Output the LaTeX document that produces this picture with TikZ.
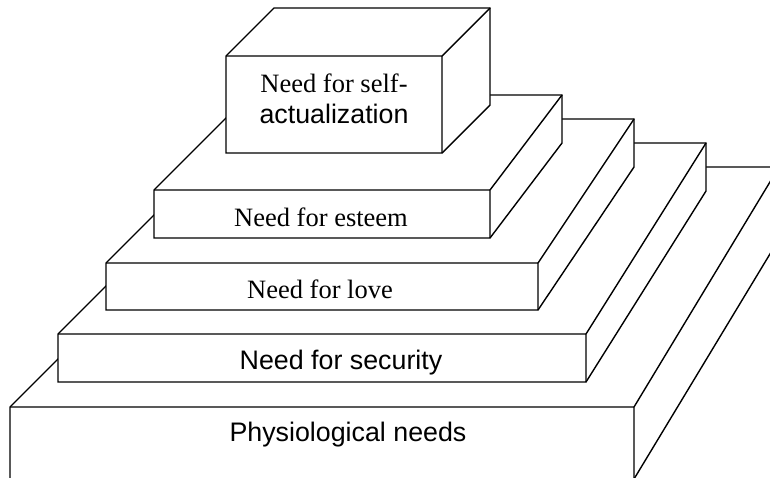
\documentclass[tikz,border=0pt]{standalone}
\usepackage{fontspec}
\setmainfont{Liberation Serif}
\setsansfont{Liberation Sans}
\begin{document}
\begin{tikzpicture}[x=1pt,y=-1pt,
    block/.style={draw,fill=white,line width=1.4pt,line join=miter},
    edge/.style={draw,line width=1.4pt},
    rmlbl/.style={font=\rmfamily\fontsize{26.5}{30}\selectfont,anchor=base,inner sep=0pt},
    sflbl/.style={font=\sffamily\fontsize{26.8}{30}\selectfont,anchor=base,inner sep=0pt}]
  \useasboundingbox (0,0) rectangle (770,477);
  \clip (0,0) rectangle (770,477);
  % physiological needs
  \path[block] (10,479) -- (10,407) -- (250,167) -- (779,167) -- (779,239) -- (634,479) -- cycle;
  \path[edge] (10,407) -- (634,407) -- (634,479) (634,407) -- (779,167);
  \node[sflbl] (physio) at (348,441) {Physiological needs};
  % security
  \path[block] (58,382) -- (58,334) -- (249,143) -- (706,143) -- (706,191) -- (586,382) -- cycle;
  \path[edge] (58,334) -- (586,334) -- (586,382) (586,334) -- (706,143);
  \node[sflbl] (security) at (341,369) {Need for security};
  % love
  \path[block] (106,310) -- (106,263) -- (250,119) -- (634,119) -- (634,167) -- (538,310) -- cycle;
  \path[edge] (106,263) -- (538,263) -- (538,310) (538,263) -- (634,119);
  \node[rmlbl] (love) at (320,298) {Need for love};
  % esteem
  \path[block] (154,238) -- (154,190) -- (249,95) -- (562,95) -- (562,143) -- (490,238) -- cycle;
  \path[edge] (154,190) -- (490,190) -- (490,238) (490,190) -- (562,95);
  \node[rmlbl] (esteem) at (321,226) {Need for esteem};
  % self-actualization
  \path[block] (226,153) -- (226,56) -- (274,8) -- (490,8) -- (490,105) -- (442,153) -- cycle;
  \path[edge] (226,56) -- (442,56) -- (442,153) (442,56) -- (490,8);
  \node[rmlbl] (self) at (334,92) {Need for self-};
  \node[sflbl] (actual) at (334,123) {actualization};
\end{tikzpicture}
\end{document}
